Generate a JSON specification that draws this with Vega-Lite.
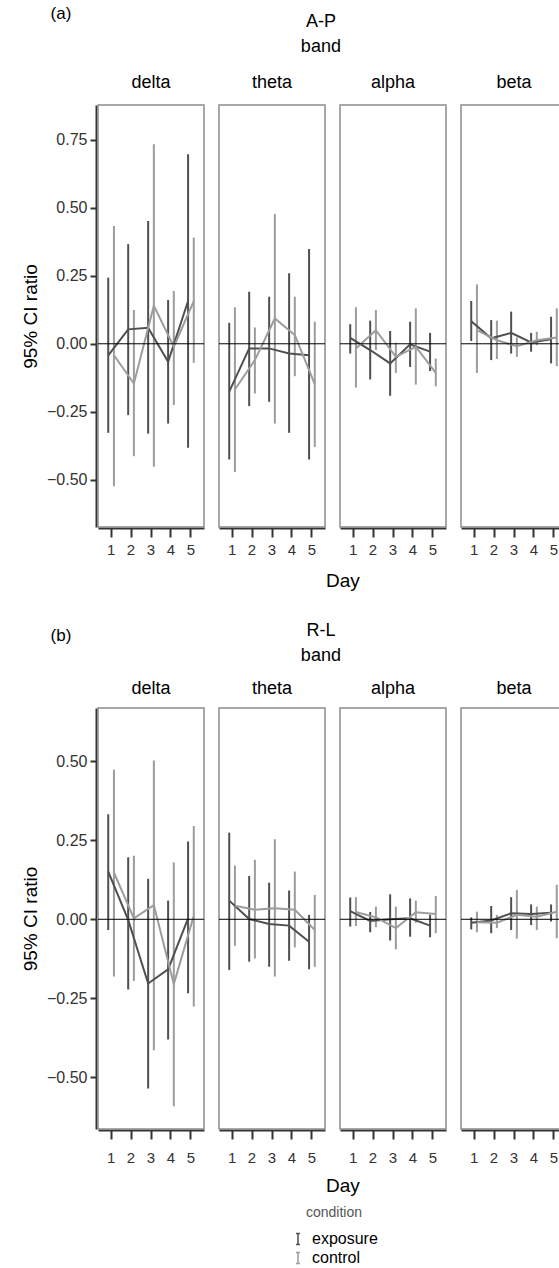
{
  "$schema": "https://vega.github.io/schema/vega-lite/v6.json",
  "padding": {"left": 21, "top": 5, "right": 0, "bottom": 0},
  "config": {
    "font": "Liberation Sans",
    "view": {"stroke": "#8c8c8c", "strokeWidth": 1.5},
    "axis": {"domainColor": "#333333", "domainWidth": 2, "tickColor": "#333333", "tickWidth": 2, "labelColor": "#333333", "grid": false, "titleFontWeight": "normal", "titleColor": "#000000"},
    "header": {"labelFontSize": 18, "labelColor": "#000000"},
    "title": {"fontWeight": "normal", "color": "#000000"},
    "concat": {"spacing": 31}
  },
  "datasets": {
    "d": [
      {"dir":"A-P","band":"delta","Day":1,"condition":"exposure","mean":-0.043,"lower":-0.327,"upper":0.243},
      {"dir":"A-P","band":"delta","Day":2,"condition":"exposure","mean":0.053,"lower":-0.262,"upper":0.366},
      {"dir":"A-P","band":"delta","Day":3,"condition":"exposure","mean":0.059,"lower":-0.330,"upper":0.451},
      {"dir":"A-P","band":"delta","Day":4,"condition":"exposure","mean":-0.066,"lower":-0.293,"upper":0.161},
      {"dir":"A-P","band":"delta","Day":5,"condition":"exposure","mean":0.157,"lower":-0.382,"upper":0.696},
      {"dir":"A-P","band":"delta","Day":1,"condition":"control","mean":-0.042,"lower":-0.523,"upper":0.433},
      {"dir":"A-P","band":"delta","Day":2,"condition":"control","mean":-0.146,"lower":-0.413,"upper":0.124},
      {"dir":"A-P","band":"delta","Day":3,"condition":"control","mean":0.140,"lower":-0.452,"upper":0.733},
      {"dir":"A-P","band":"delta","Day":4,"condition":"control","mean":-0.011,"lower":-0.225,"upper":0.194},
      {"dir":"A-P","band":"delta","Day":5,"condition":"control","mean":0.157,"lower":-0.070,"upper":0.390},
      {"dir":"A-P","band":"theta","Day":1,"condition":"exposure","mean":-0.176,"lower":-0.425,"upper":0.077},
      {"dir":"A-P","band":"theta","Day":2,"condition":"exposure","mean":-0.017,"lower":-0.229,"upper":0.191},
      {"dir":"A-P","band":"theta","Day":3,"condition":"exposure","mean":-0.017,"lower":-0.213,"upper":0.173},
      {"dir":"A-P","band":"theta","Day":4,"condition":"exposure","mean":-0.036,"lower":-0.327,"upper":0.259},
      {"dir":"A-P","band":"theta","Day":5,"condition":"exposure","mean":-0.042,"lower":-0.425,"upper":0.348},
      {"dir":"A-P","band":"theta","Day":1,"condition":"control","mean":-0.168,"lower":-0.471,"upper":0.134},
      {"dir":"A-P","band":"theta","Day":2,"condition":"control","mean":-0.060,"lower":-0.183,"upper":0.060},
      {"dir":"A-P","band":"theta","Day":3,"condition":"control","mean":0.093,"lower":-0.293,"upper":0.477},
      {"dir":"A-P","band":"theta","Day":4,"condition":"control","mean":0.032,"lower":-0.119,"upper":0.173},
      {"dir":"A-P","band":"theta","Day":5,"condition":"control","mean":-0.148,"lower":-0.379,"upper":0.081},
      {"dir":"A-P","band":"alpha","Day":1,"condition":"exposure","mean":0.022,"lower":-0.036,"upper":0.072},
      {"dir":"A-P","band":"alpha","Day":2,"condition":"exposure","mean":-0.023,"lower":-0.131,"upper":0.085},
      {"dir":"A-P","band":"alpha","Day":3,"condition":"exposure","mean":-0.072,"lower":-0.191,"upper":0.047},
      {"dir":"A-P","band":"alpha","Day":4,"condition":"exposure","mean":-0.002,"lower":-0.085,"upper":0.081},
      {"dir":"A-P","band":"alpha","Day":5,"condition":"exposure","mean":-0.029,"lower":-0.100,"upper":0.040},
      {"dir":"A-P","band":"alpha","Day":1,"condition":"control","mean":-0.017,"lower":-0.161,"upper":0.134},
      {"dir":"A-P","band":"alpha","Day":2,"condition":"control","mean":0.050,"lower":-0.023,"upper":0.124},
      {"dir":"A-P","band":"alpha","Day":3,"condition":"control","mean":-0.048,"lower":-0.107,"upper":0.004},
      {"dir":"A-P","band":"alpha","Day":4,"condition":"control","mean":-0.011,"lower":-0.150,"upper":0.130},
      {"dir":"A-P","band":"alpha","Day":5,"condition":"control","mean":-0.107,"lower":-0.156,"upper":-0.054},
      {"dir":"A-P","band":"beta","Day":1,"condition":"exposure","mean":0.083,"lower":0.010,"upper":0.157},
      {"dir":"A-P","band":"beta","Day":2,"condition":"exposure","mean":0.020,"lower":-0.060,"upper":0.087},
      {"dir":"A-P","band":"beta","Day":3,"condition":"exposure","mean":0.040,"lower":-0.036,"upper":0.118},
      {"dir":"A-P","band":"beta","Day":4,"condition":"exposure","mean":0.005,"lower":-0.029,"upper":0.040},
      {"dir":"A-P","band":"beta","Day":5,"condition":"exposure","mean":0.017,"lower":-0.072,"upper":0.099},
      {"dir":"A-P","band":"beta","Day":1,"condition":"control","mean":0.050,"lower":-0.107,"upper":0.218},
      {"dir":"A-P","band":"beta","Day":2,"condition":"control","mean":0.013,"lower":-0.056,"upper":0.085},
      {"dir":"A-P","band":"beta","Day":3,"condition":"control","mean":-0.009,"lower":-0.048,"upper":0.023},
      {"dir":"A-P","band":"beta","Day":4,"condition":"control","mean":0.013,"lower":-0.005,"upper":0.044},
      {"dir":"A-P","band":"beta","Day":5,"condition":"control","mean":0.023,"lower":-0.082,"upper":0.130},
      {"dir":"R-L","band":"delta","Day":1,"condition":"exposure","mean":0.151,"lower":-0.034,"upper":0.332},
      {"dir":"R-L","band":"delta","Day":2,"condition":"exposure","mean":-0.002,"lower":-0.222,"upper":0.196},
      {"dir":"R-L","band":"delta","Day":3,"condition":"exposure","mean":-0.203,"lower":-0.535,"upper":0.128},
      {"dir":"R-L","band":"delta","Day":4,"condition":"exposure","mean":-0.158,"lower":-0.380,"upper":0.059},
      {"dir":"R-L","band":"delta","Day":5,"condition":"exposure","mean":0.003,"lower":-0.234,"upper":0.246},
      {"dir":"R-L","band":"delta","Day":1,"condition":"control","mean":0.148,"lower":-0.181,"upper":0.473},
      {"dir":"R-L","band":"delta","Day":2,"condition":"control","mean":0.003,"lower":-0.195,"upper":0.201},
      {"dir":"R-L","band":"delta","Day":3,"condition":"control","mean":0.045,"lower":-0.414,"upper":0.502},
      {"dir":"R-L","band":"delta","Day":4,"condition":"control","mean":-0.205,"lower":-0.591,"upper":0.180},
      {"dir":"R-L","band":"delta","Day":5,"condition":"control","mean":0.011,"lower":-0.276,"upper":0.295},
      {"dir":"R-L","band":"theta","Day":1,"condition":"exposure","mean":0.059,"lower":-0.160,"upper":0.274},
      {"dir":"R-L","band":"theta","Day":2,"condition":"exposure","mean":0.001,"lower":-0.134,"upper":0.137},
      {"dir":"R-L","band":"theta","Day":3,"condition":"exposure","mean":-0.015,"lower":-0.150,"upper":0.116},
      {"dir":"R-L","band":"theta","Day":4,"condition":"exposure","mean":-0.020,"lower":-0.131,"upper":0.091},
      {"dir":"R-L","band":"theta","Day":5,"condition":"exposure","mean":-0.071,"lower":-0.158,"upper":0.014},
      {"dir":"R-L","band":"theta","Day":1,"condition":"control","mean":0.043,"lower":-0.084,"upper":0.170},
      {"dir":"R-L","band":"theta","Day":2,"condition":"control","mean":0.030,"lower":-0.124,"upper":0.188},
      {"dir":"R-L","band":"theta","Day":3,"condition":"control","mean":0.035,"lower":-0.181,"upper":0.253},
      {"dir":"R-L","band":"theta","Day":4,"condition":"control","mean":0.030,"lower":-0.089,"upper":0.151},
      {"dir":"R-L","band":"theta","Day":5,"condition":"control","mean":-0.034,"lower":-0.150,"upper":0.077},
      {"dir":"R-L","band":"alpha","Day":1,"condition":"exposure","mean":0.026,"lower":-0.023,"upper":0.069},
      {"dir":"R-L","band":"alpha","Day":2,"condition":"exposure","mean":-0.005,"lower":-0.041,"upper":0.023},
      {"dir":"R-L","band":"alpha","Day":3,"condition":"exposure","mean":0.000,"lower":-0.067,"upper":0.079},
      {"dir":"R-L","band":"alpha","Day":4,"condition":"exposure","mean":0.003,"lower":-0.055,"upper":0.066},
      {"dir":"R-L","band":"alpha","Day":5,"condition":"exposure","mean":-0.020,"lower":-0.057,"upper":0.014},
      {"dir":"R-L","band":"alpha","Day":1,"condition":"control","mean":0.023,"lower":-0.021,"upper":0.070},
      {"dir":"R-L","band":"alpha","Day":2,"condition":"control","mean":0.006,"lower":-0.025,"upper":0.040},
      {"dir":"R-L","band":"alpha","Day":3,"condition":"control","mean":-0.028,"lower":-0.095,"upper":0.040},
      {"dir":"R-L","band":"alpha","Day":4,"condition":"control","mean":0.022,"lower":-0.011,"upper":0.059},
      {"dir":"R-L","band":"alpha","Day":5,"condition":"control","mean":0.017,"lower":-0.044,"upper":0.074},
      {"dir":"R-L","band":"beta","Day":1,"condition":"exposure","mean":-0.011,"lower":-0.032,"upper":0.006},
      {"dir":"R-L","band":"beta","Day":2,"condition":"exposure","mean":-0.004,"lower":-0.044,"upper":0.042},
      {"dir":"R-L","band":"beta","Day":3,"condition":"exposure","mean":0.019,"lower":-0.034,"upper":0.070},
      {"dir":"R-L","band":"beta","Day":4,"condition":"exposure","mean":0.017,"lower":-0.018,"upper":0.047},
      {"dir":"R-L","band":"beta","Day":5,"condition":"exposure","mean":0.021,"lower":-0.007,"upper":0.047},
      {"dir":"R-L","band":"beta","Day":1,"condition":"control","mean":-0.009,"lower":-0.041,"upper":0.024},
      {"dir":"R-L","band":"beta","Day":2,"condition":"control","mean":-0.011,"lower":-0.028,"upper":0.014},
      {"dir":"R-L","band":"beta","Day":3,"condition":"control","mean":0.014,"lower":-0.061,"upper":0.093},
      {"dir":"R-L","band":"beta","Day":4,"condition":"control","mean":0.008,"lower":-0.034,"upper":0.040},
      {"dir":"R-L","band":"beta","Day":5,"condition":"control","mean":0.024,"lower":-0.060,"upper":0.109}
    ]
  },
  "vconcat": [
    {
      "title": {"text": "(a)", "fontSize": 17, "anchor": "start", "frame": "bounds", "dx": 29, "offset": -10},
      "vconcat": [
        {
          "title": {"text": ["A-P", "band"], "fontSize": 18, "lineHeight": 25, "anchor": "middle", "frame": "bounds", "dx": 26, "offset": 18},
          "vconcat": [
            {
              "data": {"name": "d"},
              "transform": [{"filter": "datum.dir == 'A-P'"}],
              "title": {"text": "Day", "orient": "bottom", "fontSize": 19, "anchor": "middle", "frame": "bounds", "dx": 48, "offset": 15},
              "facet": {"column": {"field": "band", "type": "nominal", "sort": ["delta", "theta", "alpha", "beta"], "header": {"title": null, "labelPadding": 12}}},
              "spacing": {"column": 11},
              "spec": {
                "width": 106, "height": 422,
                "layer": [
                  {"mark": {"type": "rule", "strokeWidth": 2},
                   "encoding": {
                     "x": {"field": "Day", "type": "ordinal", "scale": {"paddingInner": 0, "paddingOuter": 0.155}, "axis": {"labelAngle": 0, "tickSize": 9, "labelPadding": 5, "labelFontSize": 15, "title": null}},
                     "xOffset": {"field": "condition", "type": "nominal", "sort": ["exposure", "control"], "scale": {"paddingInner": 0, "paddingOuter": 0.75}},
                     "y": {"field": "lower", "type": "quantitative", "scale": {"domain": [-0.673, 0.877], "nice": false, "zero": false}, "axis": {"values": [-0.5, -0.25, 0, 0.25, 0.5, 0.75], "format": ".2f", "tickSize": 6, "labelPadding": 3, "labelFontSize": 16, "titleFontSize": 19, "titlePadding": 6, "title": "95% CI ratio"}},
                     "y2": {"field": "upper"},
                     "color": {"field": "condition", "type": "nominal", "scale": {"domain": ["exposure", "control"], "range": ["#4f4f4f", "#9c9c9c"]}, "legend": {"orient": "none", "legendX": 192, "legendY": 1101, "direction": "vertical", "title": "condition", "titleFontSize": 14, "titleColor": "#555555", "titleFontWeight": "normal", "titleAnchor": "middle", "titlePadding": 11, "labelFontSize": 16, "labelColor": "#000000", "labelOffset": 6, "symbolType": "M-0.35,-1H0.35M0,-1V1M-0.35,1H0.35", "symbolSize": 121, "symbolStrokeWidth": 1.5, "rowPadding": 1}}
                   }},
                  {"mark": {"type": "line", "strokeWidth": 2},
                   "encoding": {
                     "x": {"field": "Day", "type": "ordinal"},
                     "xOffset": {"field": "condition", "type": "nominal", "sort": ["exposure", "control"]},
                     "y": {"field": "mean", "type": "quantitative"},
                     "color": {"field": "condition", "type": "nominal"}
                   }},
                  {"transform": [{"filter": "datum.Day == 1 && datum.condition == 'exposure'"}],
                   "mark": {"type": "rule", "color": "#000000", "strokeWidth": 1},
                   "encoding": {"y": {"datum": 0}}}
                ]
              }
            }
          ]
        }
      ]
    },
    {
      "title": {"text": "(b)", "fontSize": 17, "anchor": "start", "frame": "bounds", "dx": 29, "offset": -23},
      "vconcat": [
        {
          "title": {"text": ["R-L", "band"], "fontSize": 18, "lineHeight": 25, "anchor": "middle", "frame": "bounds", "dx": 26, "offset": 15},
          "vconcat": [
            {
              "data": {"name": "d"},
              "transform": [{"filter": "datum.dir == 'R-L'"}],
              "title": {"text": "Day", "orient": "bottom", "fontSize": 19, "anchor": "middle", "frame": "bounds", "dx": 48, "offset": 12},
              "facet": {"column": {"field": "band", "type": "nominal", "sort": ["delta", "theta", "alpha", "beta"], "header": {"title": null, "labelPadding": 9}}},
              "spacing": {"column": 11},
              "spec": {
                "width": 106, "height": 421,
                "layer": [
                  {"mark": {"type": "rule", "strokeWidth": 2},
                   "encoding": {
                     "x": {"field": "Day", "type": "ordinal", "scale": {"paddingInner": 0, "paddingOuter": 0.155}, "axis": {"labelAngle": 0, "tickSize": 9, "labelPadding": 11, "labelFontSize": 15, "title": null}},
                     "xOffset": {"field": "condition", "type": "nominal", "sort": ["exposure", "control"], "scale": {"paddingInner": 0, "paddingOuter": 0.75}},
                     "y": {"field": "lower", "type": "quantitative", "scale": {"domain": [-0.663, 0.668], "nice": false, "zero": false}, "axis": {"values": [-0.5, -0.25, 0, 0.25, 0.5], "format": ".2f", "tickSize": 6, "labelPadding": 3, "labelFontSize": 16, "titleFontSize": 19, "titlePadding": 6, "title": "95% CI ratio"}},
                     "y2": {"field": "upper"},
                     "color": {"field": "condition", "type": "nominal"}
                   }},
                  {"mark": {"type": "line", "strokeWidth": 2},
                   "encoding": {
                     "x": {"field": "Day", "type": "ordinal"},
                     "xOffset": {"field": "condition", "type": "nominal", "sort": ["exposure", "control"]},
                     "y": {"field": "mean", "type": "quantitative"},
                     "color": {"field": "condition", "type": "nominal"}
                   }},
                  {"transform": [{"filter": "datum.Day == 1 && datum.condition == 'exposure'"}],
                   "mark": {"type": "rule", "color": "#000000", "strokeWidth": 1},
                   "encoding": {"y": {"datum": 0}}}
                ]
              }
            }
          ]
        }
      ]
    }
  ]
}
